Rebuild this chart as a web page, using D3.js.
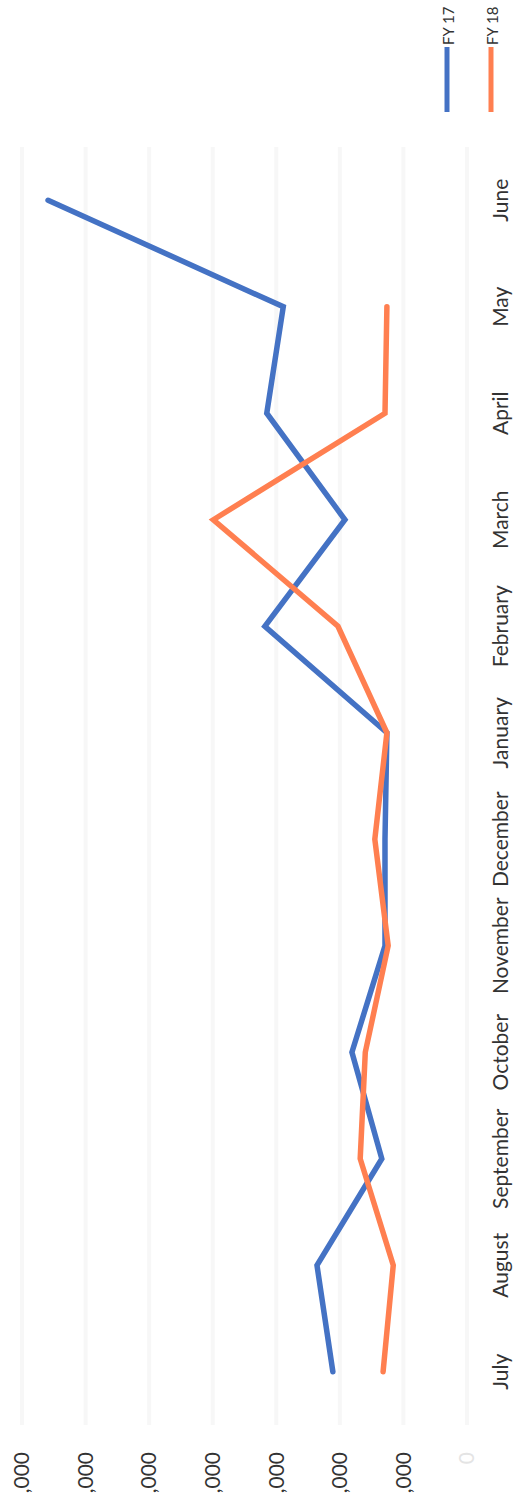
<!DOCTYPE html>
<html>
<head>
<meta charset="utf-8">
<script src="https://cdn.jsdelivr.net/npm/d3@7"></script>
<style>
  html, body { margin: 0; padding: 0; background: #fff; }
  svg { display: block; }
</style>
</head>
<body>
<svg id="chart"></svg>
<script>
const months = ['July', 'August', 'September', 'October', 'November', 'December',
  'January', 'February', 'March', 'April', 'May', 'June'];
const fy17 = [2110, 2360, 1340, 1810, 1290, 1290, 1260, 3180, 1920, 3150, 2890, 6590];
const fy18 = [1320, 1160, 1680, 1600, 1240, 1450, 1260, 2030, 3990, 1290, 1260, null];
const yTicks = [0, 1000, 2000, 3000, 4000, 5000, 6000, 7000];
const seriesNames = ['FY 17', 'FY 18'];
const colors = ['#4472C4', '#FF7F50'];

const W = 532, H = 1503;
// the whole chart is drawn sideways: local x runs up the page, local y runs right
const svg = d3.select('#chart')
  .attr('width', W)
  .attr('height', 1494);

const g = svg.append('g')
  .attr('transform', `translate(0,${H}) rotate(-90)`);

const x = d3.scalePoint()
  .domain(months)
  .range([78, 1356])
  .padding(0.5);

const y = d3.scaleLinear()
  .domain([0, 7000])
  .range([467, 22]);

// gridlines
g.append('g')
  .selectAll('line')
  .data(yTicks)
  .enter().append('line')
  .attr('x1', 78)
  .attr('x2', 1356)
  .attr('y1', d => y(d))
  .attr('y2', d => y(d))
  .attr('stroke', '#f7f7f7')
  .attr('stroke-width', 4);

// value labels (their leading digits run off the page)
g.append('g')
  .selectAll('text')
  .data(yTicks)
  .enter().append('text')
  .attr('x', 51)
  .attr('y', d => y(d))
  .attr('dy', '0.35em')
  .attr('text-anchor', 'end')
  .style('font-family', 'Lato, sans-serif')
  .style('font-size', '21px')
  .attr('fill', d => d === 0 ? '#e4e4e4' : '#333')
  .text(d => d3.format(',')(d));

// month labels
g.append('g')
  .selectAll('text')
  .data(months)
  .enter().append('text')
  .attr('x', d => x(d))
  .attr('y', 508)
  .attr('text-anchor', 'middle')
  .style('font-family', 'Lato, sans-serif')
  .style('font-size', '21px')
  .attr('fill', '#333')
  .text(d => d);

const line = d3.line()
  .defined(d => d.v != null)
  .x(d => x(d.m))
  .y(d => y(d.v));

[fy17, fy18].forEach((vals, i) => {
  g.append('path')
    .datum(months.map((m, j) => ({ m, v: vals[j] })))
    .attr('d', line)
    .attr('fill', 'none')
    .attr('stroke', colors[i])
    .attr('stroke-width', 5.5)
    .attr('stroke-linecap', 'round');
});

// legend
const legend = g.append('g');
seriesNames.forEach((name, i) => {
  const ly = 447 + i * 44;
  legend.append('line')
    .attr('x1', 1391)
    .attr('x2', 1456)
    .attr('y1', ly)
    .attr('y2', ly)
    .attr('stroke', colors[i])
    .attr('stroke-width', 5);
  legend.append('text')
    .attr('x', 1458)
    .attr('y', ly + 2)
    .attr('dy', '0.35em')
    .style('font-family', 'Lato, sans-serif')
    .style('font-size', '15px')
    .attr('fill', '#333')
    .text(name);
});
</script>
</body>
</html>
